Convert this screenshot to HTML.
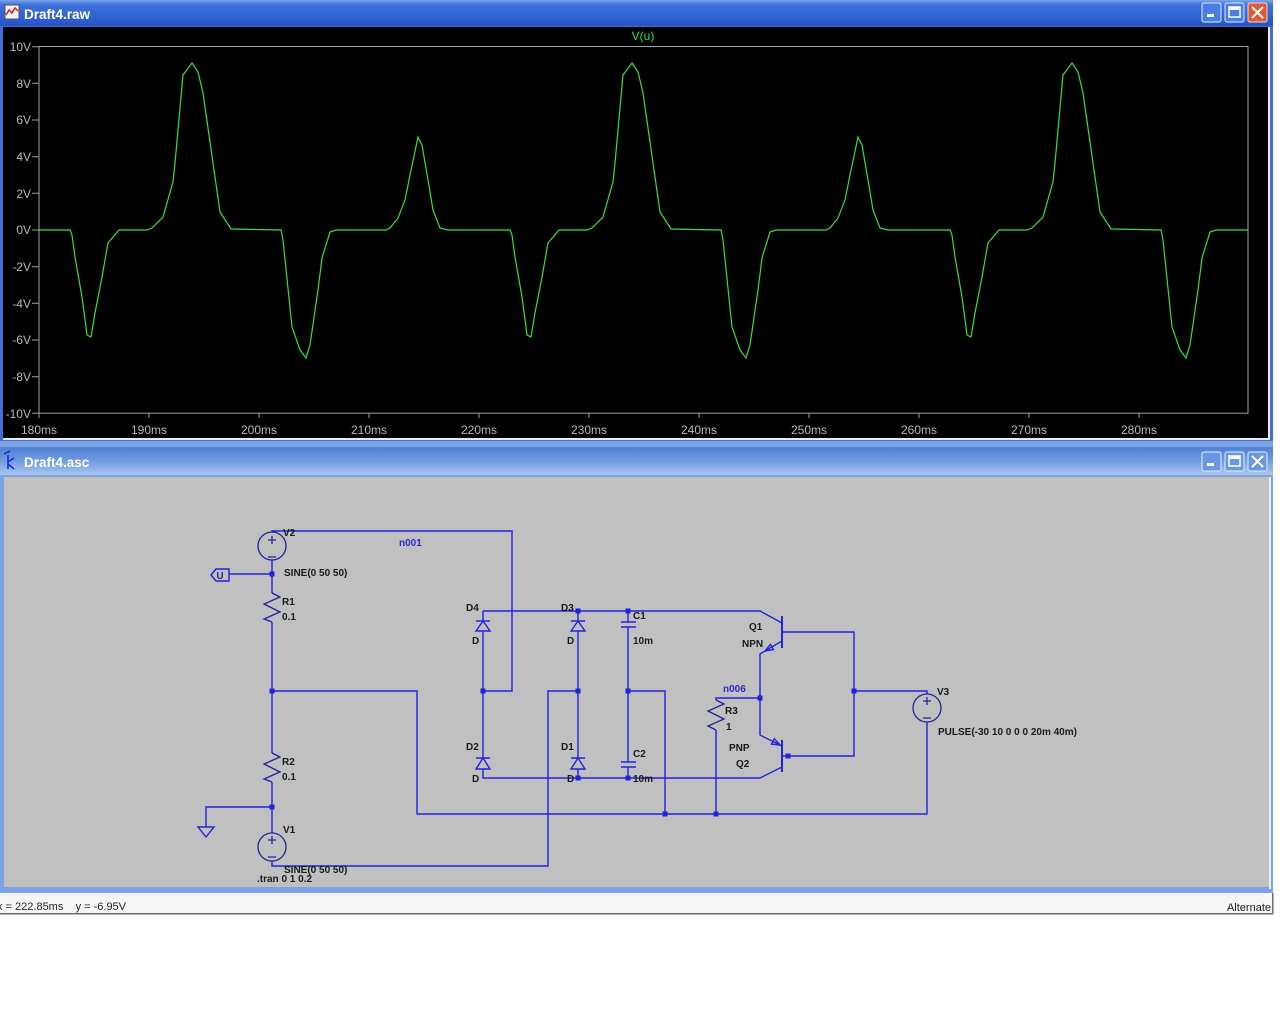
<!DOCTYPE html>
<html><head><meta charset="utf-8">
<style>
html,body{margin:0;padding:0;background:#fff;width:1280px;height:1024px;overflow:hidden;}
svg{position:absolute;left:0;top:0;}
text{font-family:"Liberation Sans",sans-serif;}
.lab{font-size:10px;font-weight:bold;fill:#1a1a1a;}
.net{font-size:10px;font-weight:bold;fill:#2a2ad0;}
.ax{font-size:12px;fill:#b8b8b8;}
.w{fill:none;stroke:#2222dd;stroke-width:1.4;}
.c{fill:none;stroke:#22229a;stroke-width:1.3;}
.j{fill:#2222dd;}
</style></head><body>
<svg width="1280" height="1024" viewBox="0 0 1280 1024">
<defs>
<linearGradient id="t1" x1="0" y1="0" x2="0" y2="1">
<stop offset="0" stop-color="#7aa6ec"/><stop offset="0.18" stop-color="#3f72da"/><stop offset="0.7" stop-color="#2f61d2"/><stop offset="1" stop-color="#2752c2"/>
</linearGradient>
<linearGradient id="t2" x1="0" y1="0" x2="0" y2="1">
<stop offset="0" stop-color="#4f7fd4"/><stop offset="0.5" stop-color="#729ce0"/><stop offset="1" stop-color="#a9c6ef"/>
</linearGradient>
<clipPath id="pc"><rect x="39" y="40" width="1209" height="380"/></clipPath>
</defs>

<!-- Window 1 -->
<rect x="0" y="0" width="1273" height="444" fill="#3f6fd6"/>
<rect x="0" y="0" width="1273" height="26" fill="url(#t1)"/>
<rect x="3" y="27" width="1265" height="411" fill="#000"/>
<rect x="3" y="438" width="1267" height="2" fill="#e8eef8"/>
<rect x="1268" y="27" width="2" height="413" fill="#e8eef8"/>
<rect x="5" y="5" width="14" height="14" fill="#f4f4f4" stroke="#555" stroke-width="1"/>
<polyline points="6,15 9,10 12,13 15,8 18,11" fill="none" stroke="#d02020" stroke-width="1.5"/>
<text x="24" y="19" font-size="13.5" font-weight="bold" fill="#fff">Draft4.raw</text>
<rect x="1202" y="3" width="19" height="19" rx="2" fill="#4a7ee0" stroke="#dfe8f8" stroke-width="1"/>
<rect x="1207" y="14" width="7" height="3" fill="#fff"/>
<rect x="1225" y="3" width="19" height="19" rx="2" fill="#4a7ee0" stroke="#dfe8f8" stroke-width="1"/>
<rect x="1229" y="7" width="11" height="10" fill="none" stroke="#fff" stroke-width="1.5"/>
<rect x="1229" y="7" width="11" height="3" fill="#fff"/>
<rect x="1248" y="3" width="19" height="19" rx="2" fill="#dc5a36" stroke="#f3d8d0" stroke-width="1"/>
<path d="M1252,7 L1263,18 M1263,7 L1252,18" stroke="#fff" stroke-width="2"/>

<!-- Plot -->
<rect x="39" y="46.5" width="1209" height="366.7" fill="none" stroke="#a0a0a0" stroke-width="1"/>
<text x="643" y="40" font-size="12" fill="#3ce03c" text-anchor="middle">V(u)</text>
<g stroke="#a0a0a0" stroke-width="1">
<path d="M32,46.7H39M32,83.3H39M32,120H39M32,156.7H39M32,193.3H39M32,230H39M32,266.7H39M32,303.3H39M32,340H39M32,376.7H39M32,413.3H39"/>
<path d="M39,413V418M149,413V418M259,413V418M369,413V418M479,413V418M589,413V418M699,413V418M809,413V418M919,413V418M1029,413V418M1139,413V418"/>
</g>
<g class="ax" text-anchor="end">
<text x="31" y="51">10V</text><text x="31" y="88">8V</text><text x="31" y="124">6V</text><text x="31" y="161">4V</text><text x="31" y="198">2V</text><text x="31" y="234">0V</text><text x="31" y="271">-2V</text><text x="31" y="308">-4V</text><text x="31" y="344">-6V</text><text x="31" y="381">-8V</text><text x="31" y="418">-10V</text>
</g>
<g class="ax" text-anchor="middle">
<text x="39" y="434">180ms</text><text x="149" y="434">190ms</text><text x="259" y="434">200ms</text><text x="369" y="434">210ms</text><text x="479" y="434">220ms</text><text x="589" y="434">230ms</text><text x="699" y="434">240ms</text><text x="809" y="434">250ms</text><text x="919" y="434">260ms</text><text x="1029" y="434">270ms</text><text x="1139" y="434">280ms</text>
</g>
<g clip-path="url(#pc)" fill="none" stroke="#3ce03c" stroke-width="1.2">
<polyline id="wv" points="39,230 70,230 72,235 75,257 82,297 87,335 91,337 95,313 102,277 108,243 119,230 147,230 152,228 163,217 173,182 175,163 183,75 192,63 198,72 203,93 220,212 231,229 281,230 283,240 292,327 300,350 306,358 310,345 318,290 322,258 330,232 336,230 386,230 390,228 398,218 405,200 410,175 418,137 422,145 428,180 433,210 440,228 448,230 479,230"/>
<use href="#wv" x="440"/>
<use href="#wv" x="880"/>
</g>

<!-- Window 2 -->
<rect x="0" y="441" width="1273" height="452" fill="#7da3e4"/>
<rect x="0" y="447" width="1273" height="28" fill="url(#t2)"/>
<rect x="4" y="476" width="1265" height="1" fill="#8aa0c8"/>
<rect x="4" y="477" width="1265" height="410" fill="#c0c0c0"/>
<rect x="1269" y="477" width="2" height="412" fill="#e6eef9"/>
<path d="M8,455 V469 M8,462 L14,458 M8,464 L14,469 M4,454 L10,451" stroke="#1a2ae0" stroke-width="1.6" fill="none"/>
<text x="24" y="467" font-size="13.5" font-weight="bold" fill="#fff">Draft4.asc</text>
<rect x="1202" y="452" width="19" height="19" rx="2" fill="#6a97e2" stroke="#e3ecf9" stroke-width="1"/>
<rect x="1207" y="463" width="7" height="3" fill="#fff"/>
<rect x="1225" y="452" width="19" height="19" rx="2" fill="#6a97e2" stroke="#e3ecf9" stroke-width="1"/>
<rect x="1229" y="456" width="11" height="10" fill="none" stroke="#fff" stroke-width="1.5"/>
<rect x="1229" y="456" width="11" height="3" fill="#fff"/>
<rect x="1248" y="452" width="19" height="19" rx="2" fill="#6a97e2" stroke="#e3ecf9" stroke-width="1"/>
<path d="M1252,456 L1263,467 M1263,456 L1252,467" stroke="#fff" stroke-width="2"/>

<!-- Status bar -->
<rect x="0" y="893" width="1273" height="21" fill="#f6f6f6"/>
<rect x="0" y="913" width="1273" height="1.5" fill="#6e6e6e"/>
<rect x="1272" y="893" width="1.5" height="21" fill="#6e6e6e"/>
<text x="-3" y="910" font-size="11" fill="#222" xml:space="preserve" style="white-space:pre">x = 222.85ms    y = -6.95V</text>
<text x="1271" y="911" font-size="11" fill="#222" text-anchor="end">Alternate</text>

<!-- Schematic wires -->
<g class="w">
<path d="M272,532 V531 H512 V691 H483"/>
<path d="M272,560 V593"/>
<path d="M229,574 H272"/>
<path d="M272,622 V753"/>
<path d="M272,691 H417 V814 H927 V722"/>
<path d="M272,782 V833"/>
<path d="M272,807 H206 V827"/>
<path d="M272,861 V866 H548 V691 H578"/>
<path d="M483,611 V621 M483,631 V758 M483,769 V778 H760 L782,767"/>
<path d="M483,611 H760 L782,623"/>
<path d="M578,611 V621 M578,631 V758 M578,769 V778"/>
<path d="M628,611 V622 M628,627 V762 M628,767 V778"/>
<path d="M628,691 H665 V814"/>
<path d="M782,632 H854 V756 H782"/>
<path d="M782,641 L760,654 V735 L782,746"/>
<path d="M760,698 H716 V700 M716,730 V814"/>
<path d="M854,691 H927 V694"/>
</g>
<g class="w">
<path d="M476,621 H490 M483,621 L476,631 H490 Z"/>
<path d="M571,621 H585 M578,621 L571,631 H585 Z"/>
<path d="M476,758 H490 M483,758 L476,769 H490 Z"/>
<path d="M571,758 H585 M578,758 L571,769 H585 Z"/>
<path d="M621,622 H636 M621,627 H636"/>
<path d="M621,762 H636 M621,767 H636"/>
<path d="M782,616 V648 M782,740 V772" stroke-width="2"/>
<path d="M765,651 L770.5,644.4 L773.5,649.6 Z"/>
<path d="M780,745 L771.5,744.1 L774.3,738.7 Z"/>
<path d="M198,827 H214 L206,837 Z"/>
<path d="M211,575 L216,569 H229 V581 H216 Z"/>
</g>
<text x="220" y="579" class="lab" text-anchor="middle" style="fill:#22229a">U</text>
<g class="c">
<polyline points="272,593 280,597 264,604 280,612 264,619 272,622"/>
<polyline points="272,753 280,757 264,764 280,772 264,779 272,782"/>
<polyline points="716,700 724,704 708,711 724,719 708,726 716,730"/>
<circle cx="272" cy="546" r="14"/>
<path d="M268,540 H276 M272,536 V544 M268,557 H276"/>
<circle cx="272" cy="847" r="14"/>
<path d="M268,840 H276 M272,836 V844 M268,857 H276"/>
<circle cx="927" cy="708" r="14"/>
<path d="M923,701 H931 M927,697 V705 M923,718 H931"/>
</g>
<g class="j">
<rect x="269.5" y="571.5" width="5" height="5"/>
<rect x="269.5" y="688.5" width="5" height="5"/>
<rect x="269.5" y="804.5" width="5" height="5"/>
<rect x="480.5" y="688.5" width="5" height="5"/>
<rect x="575.5" y="608.5" width="5" height="5"/>
<rect x="575.5" y="688.5" width="5" height="5"/>
<rect x="575.5" y="775.5" width="5" height="5"/>
<rect x="625.5" y="608.5" width="5" height="5"/>
<rect x="625.5" y="688.5" width="5" height="5"/>
<rect x="625.5" y="775.5" width="5" height="5"/>
<rect x="757.5" y="695.5" width="5" height="5"/>
<rect x="851.5" y="688.5" width="5" height="5"/>
<rect x="785.5" y="753.5" width="5" height="5"/>
<rect x="662.5" y="811.5" width="5" height="5"/>
<rect x="713.5" y="811.5" width="5" height="5"/>
</g>
<g class="lab">
<text x="283" y="536">V2</text>
<text x="284" y="576">SINE(0 50 50)</text>
<text x="282" y="605">R1</text>
<text x="282" y="620">0.1</text>
<text x="282" y="765">R2</text>
<text x="282" y="780">0.1</text>
<text x="283" y="833">V1</text>
<text x="284" y="873">SINE(0 50 50)</text>
<text x="257" y="882">.tran 0 1 0.2</text>
<text x="466" y="611">D4</text>
<text x="472" y="644">D</text>
<text x="561" y="611">D3</text>
<text x="567" y="644">D</text>
<text x="633" y="619">C1</text>
<text x="633" y="644">10m</text>
<text x="466" y="750">D2</text>
<text x="472" y="782">D</text>
<text x="561" y="750">D1</text>
<text x="567" y="782">D</text>
<text x="633" y="757">C2</text>
<text x="633" y="782">10m</text>
<text x="749" y="630">Q1</text>
<text x="742" y="647">NPN</text>
<text x="729" y="751">PNP</text>
<text x="736" y="767">Q2</text>
<text x="725" y="714">R3</text>
<text x="726" y="730">1</text>
<text x="937" y="695">V3</text>
<text x="938" y="735">PULSE(-30 10 0 0 0 20m 40m)</text>
</g>
<text x="399" y="546" class="net">n001</text>
<text x="723" y="692" class="net">n006</text>
</svg>
</body></html>
